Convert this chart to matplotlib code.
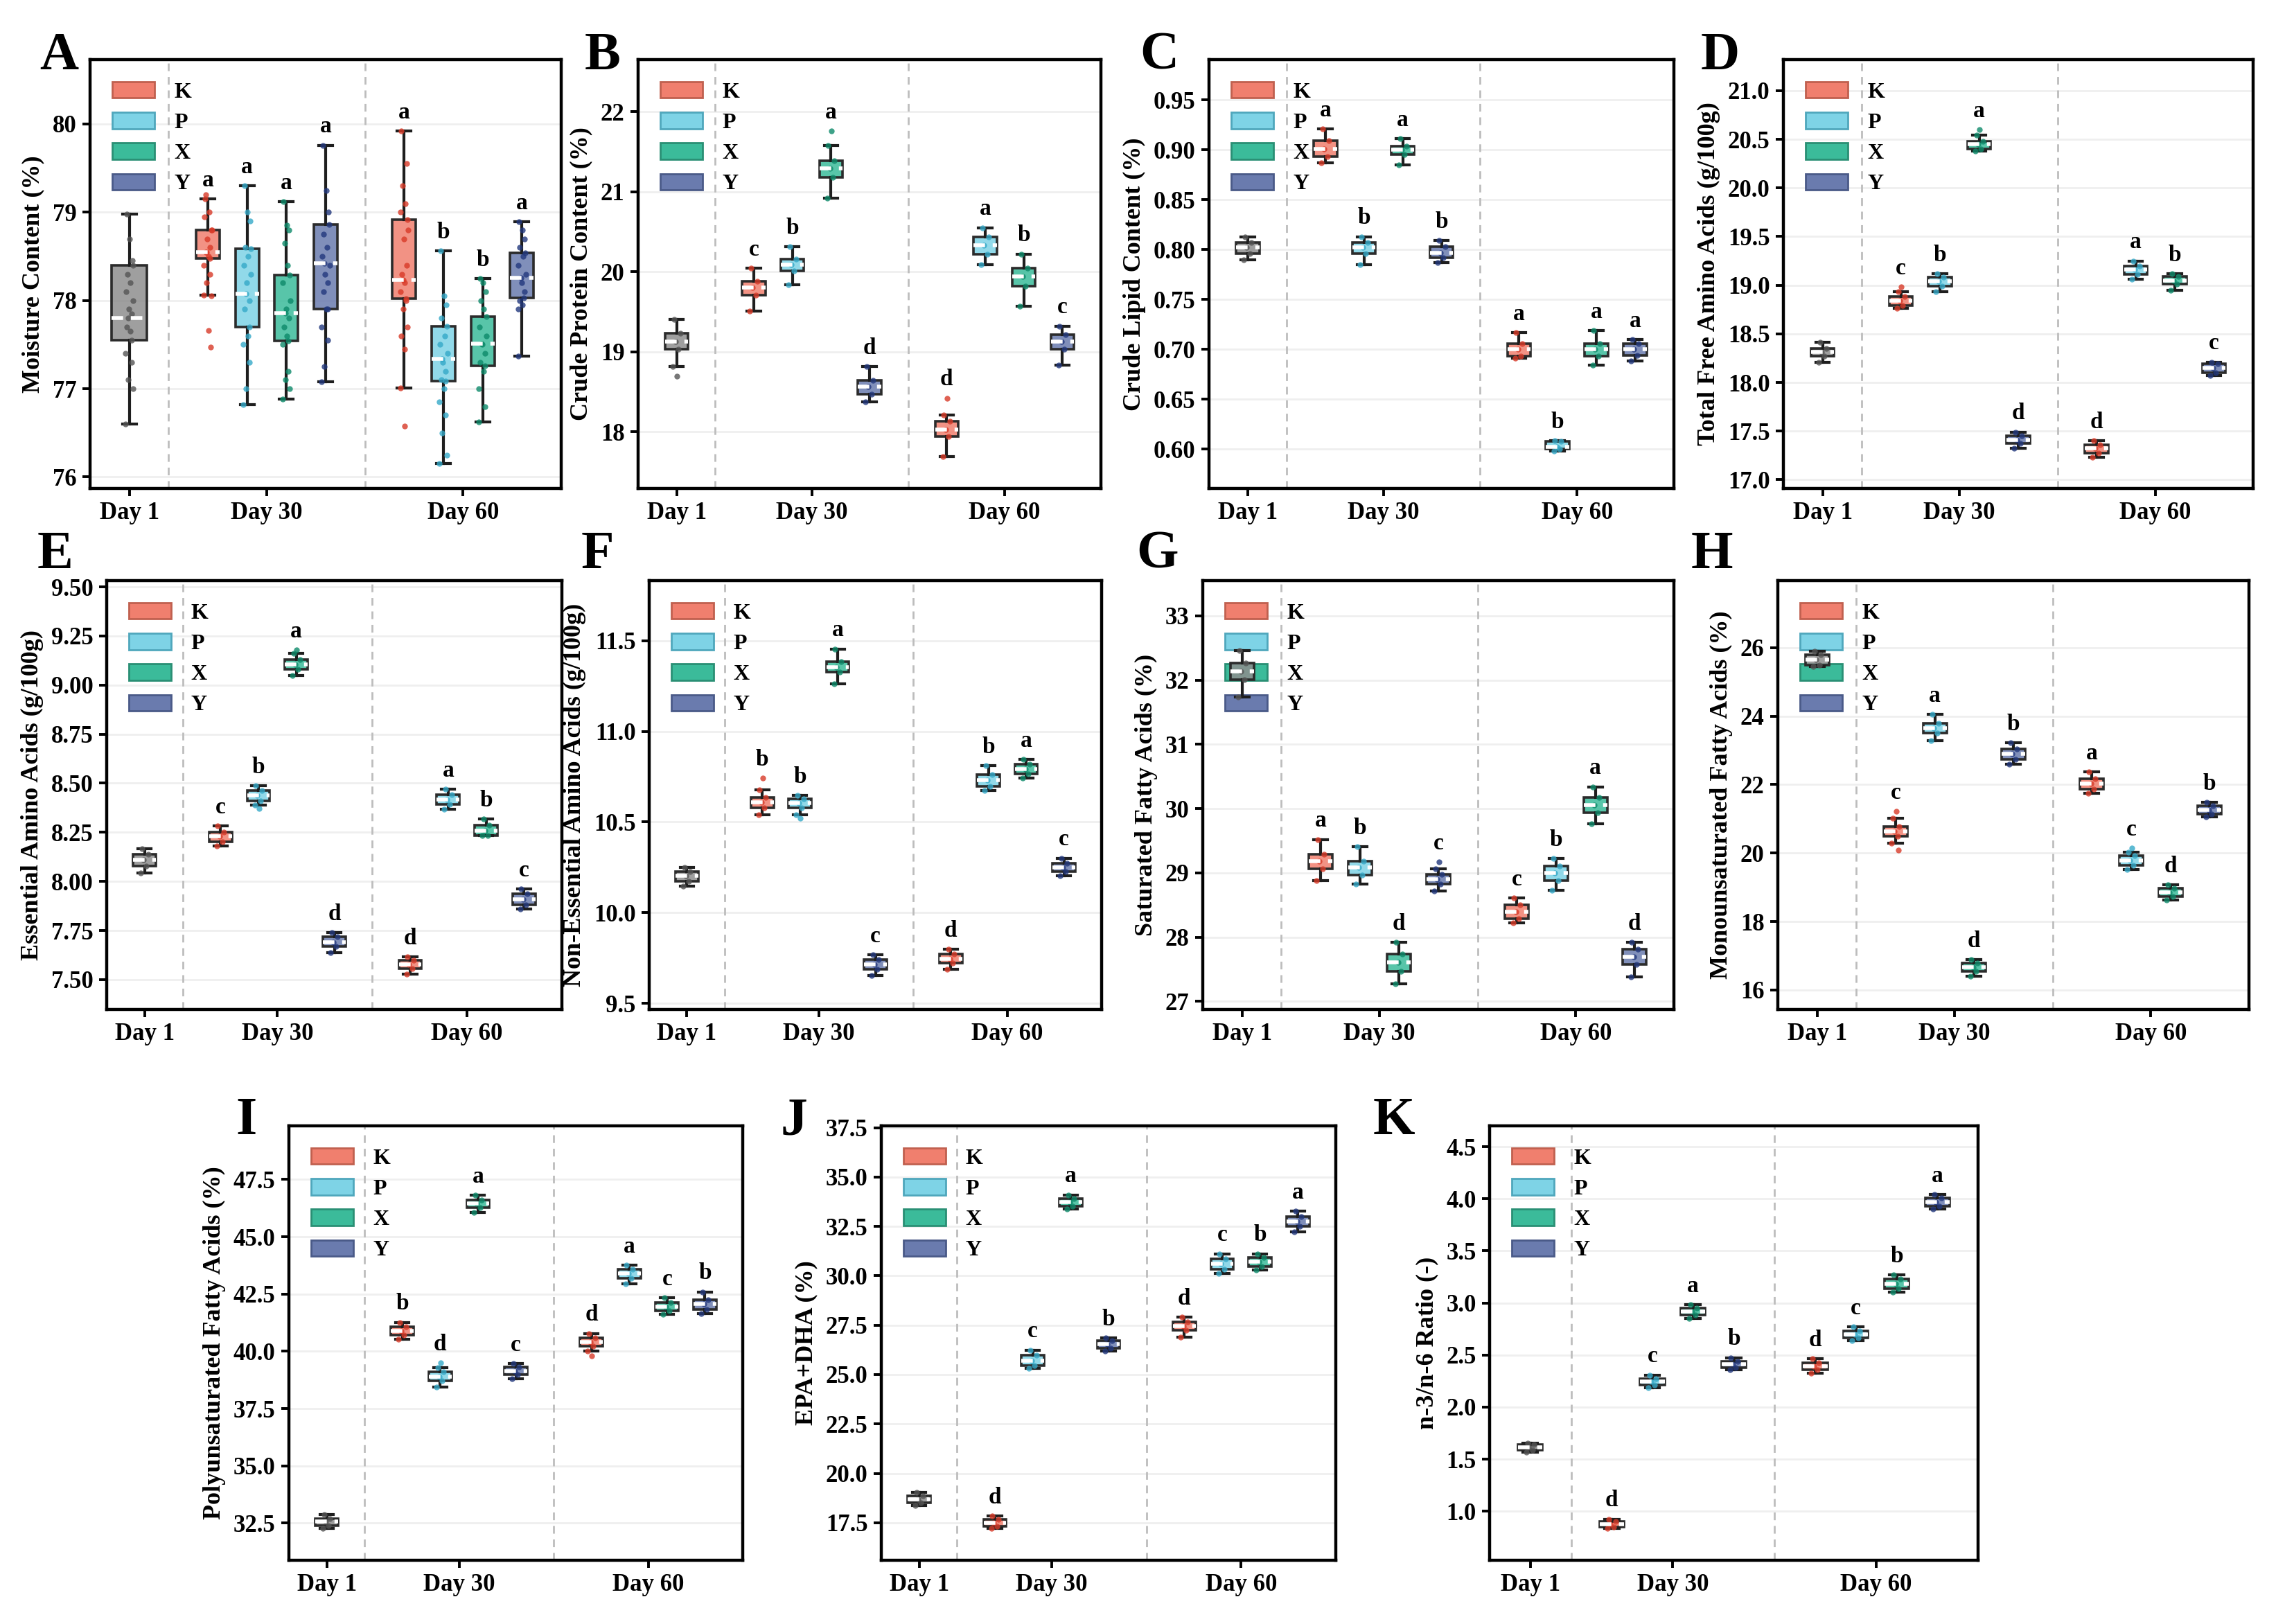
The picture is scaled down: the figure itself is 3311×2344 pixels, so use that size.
import numpy as np
import matplotlib
matplotlib.use("Agg")
import matplotlib.pyplot as plt
import matplotlib.patches as mpatches
from matplotlib.colors import to_rgba

plt.rcParams['font.family'] = ['Liberation Serif', 'DejaVu Serif']
plt.rcParams['font.weight'] = 'bold'
plt.rcParams['axes.labelweight'] = 'bold'

groups = ['K', 'P', 'X', 'Y']
day_labels = ['Day 1', 'Day 30', 'Day 60']

# box stats: (lower whisker, q1, median, q3, upper whisker)
# order: Day 1 control, Day 30 K P X Y, Day 60 K P X Y
A_stats = [(76.60, 77.55, 77.80, 78.40, 78.98),
           (78.06, 78.48, 78.55, 78.80, 79.15), (76.82, 77.70, 78.08, 78.59, 79.30),
           (76.88, 77.54, 77.86, 78.29, 79.12), (77.08, 77.90, 78.42, 78.86, 79.76),
           (77.01, 78.02, 78.23, 78.92, 79.92), (76.15, 77.09, 77.34, 77.71, 78.56),
           (76.62, 77.26, 77.51, 77.82, 78.25), (77.37, 78.03, 78.26, 78.54, 78.89)]
A_out = [[], [77.66, 77.47], [], [], [], [76.58], [], [], []]
A_dots = [[78.7, 78.45, 78.3, 78.2, 78.1, 78.0, 77.9, 77.85, 77.7, 77.65, 77.4, 77.3, 77.1, 77.0],
          [79.2, 79.0, 78.95, 78.8, 78.7, 78.6, 78.55, 78.5, 78.4, 78.3, 78.2, 78.05],
          [79.0, 78.9, 78.6, 78.5, 78.4, 78.3, 78.2, 78.0, 77.9, 77.6, 77.5, 77.3, 77.0],
          [78.85, 78.8, 78.65, 78.4, 78.2, 78.0, 77.9, 77.8, 77.7, 77.6, 77.5, 77.2, 77.1, 77.0],
          [79.25, 79.0, 78.75, 78.6, 78.5, 78.4, 78.3, 78.2, 78.1, 77.9, 77.7, 77.55, 77.25],
          [79.55, 79.3, 79.1, 79.0, 78.8, 78.7, 78.4, 78.3, 78.2, 78.1, 78.0, 77.9, 77.7, 77.6, 77.45],
          [78.05, 77.95, 77.8, 77.6, 77.5, 77.4, 77.3, 77.2, 77.1, 77.0, 76.85, 76.7, 76.5, 76.25],
          [78.2, 78.1, 78.0, 77.9, 77.7, 77.6, 77.5, 77.4, 77.3, 77.2, 77.0, 76.8],
          [78.8, 78.7, 78.6, 78.5, 78.4, 78.3, 78.2, 78.1, 78.0, 77.95, 77.9]]
A_letters = ['', 'a', 'a', 'a', 'a', 'a', 'b', 'b', 'a']

B_stats = [(18.81, 19.03, 19.13, 19.23, 19.40),
           (19.51, 19.71, 19.80, 19.88, 20.04), (19.84, 20.01, 20.09, 20.16, 20.31),
           (20.92, 21.18, 21.29, 21.39, 21.58), (18.37, 18.47, 18.56, 18.64, 18.81),
           (17.69, 17.94, 18.03, 18.13, 18.21), (20.09, 20.22, 20.33, 20.43, 20.55),
           (19.57, 19.82, 19.94, 20.04, 20.22), (18.83, 19.03, 19.13, 19.21, 19.32)]
B_out = [[18.69], [], [], [21.76], [], [18.42], [], [], []]
B_letters = ['', 'c', 'b', 'a', 'd', 'd', 'a', 'b', 'c']

C_stats = [(0.790, 0.796, 0.802, 0.807, 0.813),
           (0.887, 0.893, 0.901, 0.909, 0.921), (0.785, 0.796, 0.802, 0.807, 0.813),
           (0.885, 0.895, 0.900, 0.904, 0.911), (0.787, 0.792, 0.797, 0.803, 0.809),
           (0.691, 0.693, 0.700, 0.706, 0.717), (0.598, 0.600, 0.602, 0.6075, 0.6085),
           (0.684, 0.693, 0.700, 0.706, 0.719), (0.688, 0.694, 0.700, 0.706, 0.710)]
C_out = [[], [], [], [], [], [], [], [], []]
C_letters = ['', 'a', 'b', 'a', 'b', 'a', 'b', 'a', 'a']

D_stats = [(18.21, 18.27, 18.31, 18.35, 18.41),
           (18.76, 18.79, 18.84, 18.88, 18.93), (18.93, 18.99, 19.04, 19.08, 19.12),
           (20.38, 20.40, 20.45, 20.48, 20.54), (17.32, 17.37, 17.41, 17.45, 17.49),
           (17.23, 17.27, 17.32, 17.36, 17.40), (19.06, 19.11, 19.16, 19.20, 19.25),
           (18.95, 19.01, 19.05, 19.09, 19.12), (18.07, 18.10, 18.15, 18.19, 18.21)]
D_out = [[], [18.98], [], [20.60], [], [], [], [], []]
D_letters = ['', 'c', 'b', 'a', 'd', 'd', 'a', 'b', 'c']

E_stats = [(8.042, 8.078, 8.110, 8.140, 8.167),
           (8.179, 8.202, 8.229, 8.252, 8.282), (8.389, 8.410, 8.439, 8.464, 8.487),
           (9.047, 9.082, 9.105, 9.130, 9.162), (7.639, 7.669, 7.692, 7.717, 7.740),
           (7.527, 7.557, 7.576, 7.598, 7.616), (8.368, 8.393, 8.417, 8.442, 8.469),
           (8.233, 8.233, 8.259, 8.286, 8.318), (7.859, 7.882, 7.909, 7.936, 7.962)]
E_out = [[], [], [8.37], [9.18], [], [], [], [], []]
E_letters = ['', 'c', 'b', 'a', 'd', 'd', 'a', 'b', 'c']

F_stats = [(10.146, 10.174, 10.203, 10.225, 10.250),
           (10.539, 10.580, 10.609, 10.637, 10.678), (10.539, 10.580, 10.605, 10.627, 10.646),
           (11.264, 11.326, 11.355, 11.383, 11.455), (9.655, 9.689, 9.715, 9.740, 9.768),
           (9.687, 9.721, 9.746, 9.772, 9.797), (10.675, 10.697, 10.731, 10.760, 10.811),
           (10.741, 10.765, 10.794, 10.820, 10.845), (10.203, 10.225, 10.250, 10.274, 10.301)]
F_out = [[], [10.741], [10.52], [], [], [], [], [], []]
F_letters = ['', 'b', 'b', 'a', 'c', 'd', 'b', 'a', 'c']

G_stats = [(31.74, 32.01, 32.14, 32.26, 32.46),
           (28.88, 29.06, 29.18, 29.29, 29.52), (28.83, 28.97, 29.08, 29.18, 29.41),
           (27.27, 27.47, 27.61, 27.74, 27.92), (28.72, 28.83, 28.90, 28.98, 29.06),
           (28.22, 28.29, 28.39, 28.50, 28.61), (28.73, 28.88, 29.00, 29.11, 29.22),
           (29.76, 29.94, 30.06, 30.17, 30.34), (27.38, 27.58, 27.69, 27.81, 27.92)]
G_out = [[], [], [], [], [29.17], [], [], [], []]
G_letters = ['', 'a', 'b', 'd', 'c', 'c', 'b', 'a', 'd']

H_stats = [(25.44, 25.50, 25.66, 25.80, 25.90),
           (20.29, 20.49, 20.63, 20.78, 21.01), (23.29, 23.50, 23.65, 23.80, 24.05),
           (16.40, 16.55, 16.67, 16.79, 16.89), (22.59, 22.73, 22.89, 23.04, 23.23),
           (21.74, 21.87, 22.02, 22.17, 22.37), (19.52, 19.64, 19.79, 19.92, 20.02),
           (18.63, 18.73, 18.85, 18.97, 19.07), (21.05, 21.13, 21.25, 21.38, 21.48)]
H_out = [[], [21.21, 20.09], [], [], [], [], [20.15], [], []]
H_letters = ['', 'c', 'a', 'd', 'b', 'a', 'c', 'd', 'b']

I_stats = [(32.27, 32.39, 32.58, 32.70, 32.88),
           (40.52, 40.70, 40.88, 41.08, 41.26), (38.44, 38.71, 38.89, 39.09, 39.30),
           (46.06, 46.26, 46.44, 46.59, 46.82), (38.81, 38.97, 39.15, 39.31, 39.46),
           (40.02, 40.22, 40.40, 40.58, 40.78), (42.94, 43.19, 43.39, 43.57, 43.75),
           (41.61, 41.76, 41.96, 42.14, 42.34), (41.64, 41.84, 42.06, 42.25, 42.59)]
I_out = [[], [], [39.50], [], [], [39.80], [], [], []]
I_letters = ['', 'b', 'd', 'a', 'c', 'd', 'a', 'c', 'b']

J_stats = [(18.38, 18.50, 18.68, 18.85, 19.03),
           (17.21, 17.32, 17.50, 17.68, 17.85), (25.31, 25.45, 25.71, 25.98, 26.24),
           (33.37, 33.51, 33.72, 33.89, 34.10), (26.19, 26.33, 26.54, 26.72, 26.86),
           (26.89, 27.25, 27.46, 27.65, 27.91), (30.11, 30.34, 30.60, 30.87, 31.11),
           (30.29, 30.46, 30.73, 30.94, 31.11), (32.22, 32.52, 32.75, 32.98, 33.28)]
J_out = [[], [], [], [], [], [], [], [], []]
J_letters = ['', 'd', 'c', 'a', 'b', 'd', 'c', 'b', 'a']

K_stats = [(1.567, 1.590, 1.616, 1.639, 1.656),
           (0.832, 0.848, 0.874, 0.901, 0.924), (2.183, 2.209, 2.242, 2.275, 2.308),
           (2.852, 2.885, 2.918, 2.951, 2.984), (2.358, 2.381, 2.414, 2.440, 2.473),
           (2.325, 2.358, 2.390, 2.424, 2.466), (2.638, 2.664, 2.697, 2.730, 2.770),
           (3.106, 3.139, 3.185, 3.231, 3.271), (3.900, 3.930, 3.970, 4.010, 4.040)]
K_out = [[], [], [], [], [], [], [], [], []]
K_letters = ['', 'd', 'c', 'a', 'b', 'd', 'c', 'b', 'a']

# ---- style / layout ----
positions = [0, 2, 3, 4, 5, 7, 8, 9, 10]
fills = ['#8E8E8E'] + ['#F07F6E', '#7ED3E6', '#3BBB9A', '#6A7BAE'] * 2
dotcols = ['#555555'] + ['#D83A28', '#35A9C8', '#0D8A6A', '#22387D'] * 2
legend_edges = ['#C0604F', '#4FA7BC', '#2A8F74', '#4A5A88']
jit = [-0.10, 0.05, -0.03, 0.09, -0.07, 0.01, 0.07, -0.05, 0.03, -0.09, 0.10, -0.01, 0.06, -0.06, 0.02]

W, H = 3311, 2344


def rect(x0, x1, y0, y1):
    return [x0 / W, 1 - y1 / H, (x1 - x0) / W, (y1 - y0) / H]


panels = [
    ('A', 'Moisture Content (%)', A_stats, A_out, A_dots, A_letters, (75.87, 80.73), np.arange(76, 81, 1), '%d', rect(130, 810, 86, 705), (57, 100), 0.9),
    ('B', 'Crude Protein Content (%)', B_stats, B_out, None, B_letters, (17.29, 22.65), np.arange(18, 23, 1), '%d', rect(921, 1589, 86, 705), (844, 100), 0.6),
    ('C', 'Crude Lipid Content (%)', C_stats, C_out, None, C_letters, (0.5605, 0.9905), np.arange(0.60, 0.951, 0.05), '%.2f', rect(1745, 2416, 86, 705), (1645, 100), 0.6),
    ('D', 'Total Free Amino Acids (g/100g)', D_stats, D_out, None, D_letters, (16.91, 21.32), np.arange(17.0, 21.01, 0.5), '%.1f', rect(2574, 3252, 86, 705), (2455, 100), 0.6),
    ('E', 'Essential Amino Acids (g/100g)', E_stats, E_out, None, E_letters, (7.348, 9.532), np.arange(7.5, 9.51, 0.25), '%.2f', rect(154, 811, 838, 1457), (54, 820), 0.6),
    ('F', 'Non-Essential Amino Acids (g/100g)', F_stats, F_out, None, F_letters, (9.466, 11.832), np.arange(9.5, 11.51, 0.5), '%.1f', rect(937, 1590, 838, 1457), (839, 820), 0.6),
    ('G', 'Saturated Fatty Acids (%)', G_stats, G_out, None, G_letters, (26.875, 33.547), np.arange(27, 34, 1), '%d', rect(1736, 2416, 838, 1457), (1640, 820), 0.6),
    ('H', 'Monounsaturated Fatty Acids (%)', H_stats, H_out, None, H_letters, (15.43, 27.96), np.arange(16, 27, 2), '%d', rect(2566, 3246, 838, 1457), (2441, 820), 0.6),
    ('I', 'Polyunsaturated Fatty Acids (%)', I_stats, I_out, None, I_letters, (30.88, 49.84), np.arange(32.5, 47.6, 2.5), '%.1f', rect(417, 1072, 1625, 2252), (340, 1637), 0.6),
    ('J', 'EPA+DHA (%)', J_stats, J_out, None, J_letters, (15.60, 37.59), np.arange(17.5, 37.6, 2.5), '%.1f', rect(1272, 1928, 1625, 2252), (1127, 1637), 0.6),
    ('K', 'n-3/n-6 Ratio (-)', K_stats, K_out, None, K_letters, (0.529, 4.70), np.arange(1.0, 4.51, 0.5), '%.1f', rect(2150, 2855, 1625, 2252), (1982, 1637), 0.6),
]

fig = plt.figure(figsize=(W / 200, H / 200), dpi=200)

for tag, ylabel, stats, outs, dots, letters, ylim, yticks, fmt, r, lpos, w0 in panels:
    ax = fig.add_axes(r)
    ax.set_xlim(-1, 11)
    ax.set_ylim(*ylim)
    ax.grid(axis='y', color='#EFEFEF', lw=1.0)
    ax.set_axisbelow(True)
    for xv in (1, 6):
        ax.axvline(xv, color='#BDBDBD', lw=1.0, ls=(0, (4, 3)), zorder=1)

    bstats = [dict(whislo=s[0], q1=s[1], med=s[2], q3=s[3], whishi=s[4], fliers=[]) for s in stats]
    widths = [w0] + [0.6] * 8
    bp = ax.bxp(bstats, positions=positions, widths=widths, capwidths=[0.35] * 9,
                patch_artist=True, showfliers=False,
                boxprops=dict(edgecolor='#2B2B2B', linewidth=1.3),
                whiskerprops=dict(color='#1E1E1E', linewidth=1.5),
                capprops=dict(color='#1E1E1E', linewidth=1.5),
                medianprops=dict(color='white', linewidth=2.0, linestyle=(0, (3, 2)), zorder=5))
    for patch, c in zip(bp['boxes'], fills):
        patch.set_facecolor(to_rgba(c, 0.85))
        patch.set_zorder(2)

    for i, pos in enumerate(positions):
        vals = list(stats[i]) + list(outs[i])
        if dots is not None:
            vals += dots[i]
        xs = [pos + jit[k % len(jit)] for k in range(len(vals))]
        ax.scatter(xs, vals, s=9, color=dotcols[i], alpha=0.8, linewidths=0, zorder=3)
        if letters[i]:
            top = max([stats[i][4]] + list(outs[i]))
            ax.text(pos, top + 0.018 * (ylim[1] - ylim[0]), letters[i], ha='center', va='bottom',
                    fontsize=12, fontweight='bold', zorder=6)

    ax.set_xticks([0, 3.5, 8.5])
    ax.set_xticklabels(day_labels)
    ax.set_yticks(yticks)
    ax.set_yticklabels([fmt % v for v in yticks])
    ax.tick_params(axis='both', direction='out', length=4, width=1.4, labelsize=12.5, pad=3)
    ax.set_ylabel(ylabel, fontsize=13, labelpad=4)
    for sp in ax.spines.values():
        sp.set_linewidth(1.6)

    handles = [mpatches.Patch(facecolor=c, edgecolor=e, linewidth=1.0)
               for c, e in zip(fills[1:5], legend_edges)]
    leg = ax.legend(handles, groups, loc='upper left', frameon=False, handlelength=1.9,
                    handleheight=0.75, labelspacing=0.45, handletextpad=0.9, borderaxespad=0.6,
                    prop={'weight': 'bold', 'size': 11.5})
    leg.set_zorder(1)

    fig.text(lpos[0] / W, 1 - lpos[1] / H, tag, fontsize=28, fontweight='bold', ha='left', va='baseline')

fig.savefig('out.png', dpi=200)
